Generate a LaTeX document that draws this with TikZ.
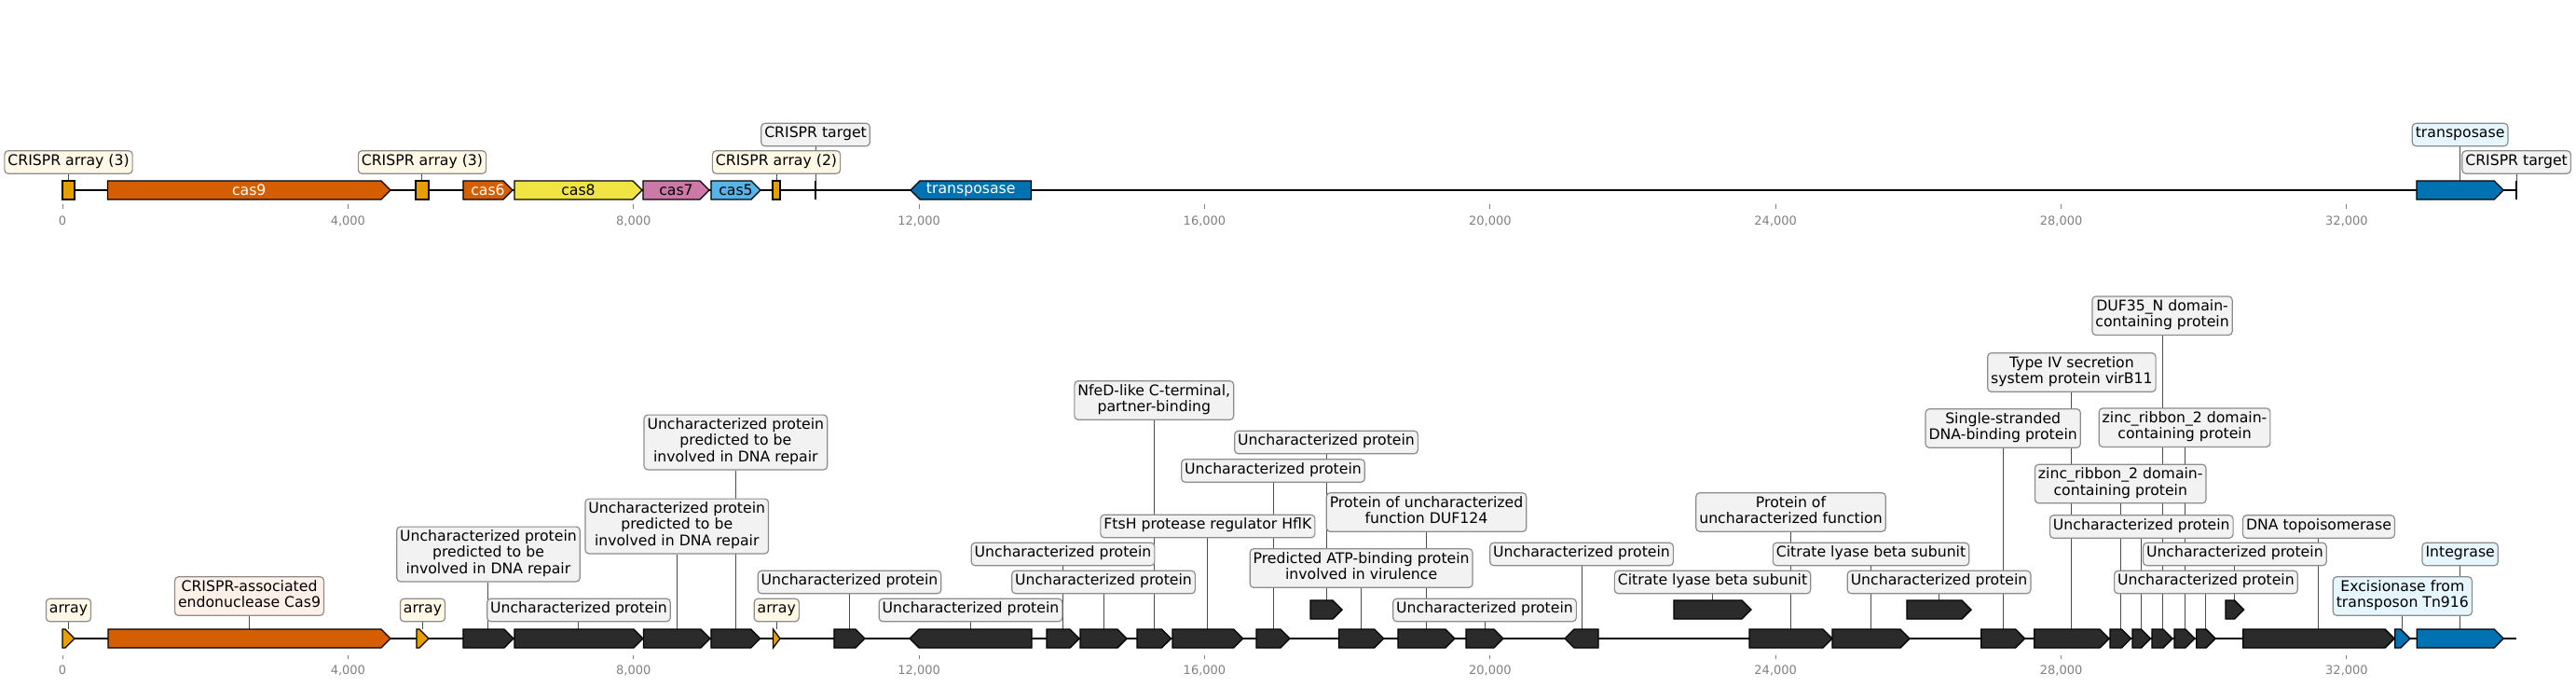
\documentclass[tikz,border=0pt]{standalone}
\usepackage{fontspec}
\setmainfont{DejaVu Sans}
\usetikzlibrary{backgrounds}
\definecolor{arrayorange}{HTML}{E69F00}
\definecolor{casred}{HTML}{D55E00}
\definecolor{casyellow}{HTML}{F0E442}
\definecolor{caspink}{HTML}{CC79A7}
\definecolor{cassky}{HTML}{56B4E9}
\definecolor{tnblue}{HTML}{0072B2}
\definecolor{hypo}{HTML}{2B2B2B}
\definecolor{boxgray}{HTML}{F2F2F2}
\definecolor{boxcream}{HTML}{FFF8E7}
\definecolor{boxpeach}{HTML}{FFF1E8}
\definecolor{boxblue}{HTML}{E6F6FE}

\begin{document}
\begin{tikzpicture}[
  x=38.295pt, y=0.5pt,
  track/.style={line width=1pt},
  gene/.style={draw=black, line width=0.65pt},
  lbl/.style={draw=black!45, line width=0.6pt, rounded corners=2pt, fill=boxgray, align=center,
    font=\fontsize{7.85}{8.63}\selectfont, inner xsep=1.75pt, inner ysep=1.8pt,
    execute at begin node=\strut, execute at end node=\strut},
  inside/.style={font=\fontsize{7.85}{8.63}\selectfont, inner sep=0pt},
  lead/.style={draw=black!70, line width=0.5pt},
  tick/.style={draw=black!50, line width=0.5pt},
  ticklbl/.style={font=\fontsize{6.5}{7.8}\selectfont, text=black!50, inner sep=0pt},
]
\useasboundingbox (-0.8748,0) rectangle (35.2128,736);

% Axes
\draw[track] (0,532) -- (34.378,532);
\draw[track] (0,51) -- (34.378,51);
\foreach \k/\t in {0/0,4/{4,000},8/{8,000},12/{12,000},16/{16,000},20/{20,000},24/{24,000},28/{28,000},32/{32,000}} {
  \draw[tick] (\k,517) -- (\k,512);
  \node[ticklbl] (tt\k) at (\k,499) {\t};
  \draw[tick] (\k,33) -- (\k,29);
  \node[ticklbl] (bt\k) at (\k,17) {\t};
}

% Top track
\foreach \n/\a/\b in {a1/0/0.17, a2/4.948/5.131, a3/9.949/10.053} {
  \draw[gene, fill=arrayorange] (\a,522) rectangle (\b,542);
  \coordinate (\n) at ({(\a+\b)/2},542);
}
\foreach \n/\a/\b/\c/\tc/\txt in {c9/0.632/4.596/casred/white/cas9, c6/5.614/6.306/casred/white/cas6,
    c8/6.332/8.121/casyellow/black/cas8, c7/8.134/9.061/caspink/black/cas7,
    c5/9.087/9.779/cassky/black/cas5, tr2/32.98/34.197/tnblue/white/{}} {
  \pgfmathsetmacro{\tip}{max(\a,\b-0.1306)}
  \draw[gene, fill=\c] (\a,522) -- (\tip,522) -- (\b,532) -- (\tip,542) -- (\a,542) -- cycle;
  \node[inside, text=\tc] (\n-in) at ({(\a+\b)/2},532) {\txt};
  \coordinate (\n) at ({(\a+\b)/2},542);
}
\draw[gene, fill=tnblue] (13.572,522) -- (12.0116,522) -- (11.881,532) -- (12.0116,542) -- (13.572,542) -- cycle;
\node[inside, text=white] (tr1-in) at (12.7265,532) {transposase};
\draw[gene, line width=0.9pt] (10.55,522) -- (10.55,542);
\coordinate (t1) at (10.55,542);
\draw[gene, line width=1.1pt] (34.378,522) -- (34.378,542);
\coordinate (t2) at (34.378,542);

\node[lbl, fill=boxcream] (la1) at (a1 |- 0,562) {CRISPR array (3)};
\node[lbl, fill=boxcream] (la2) at (a2 |- 0,562) {CRISPR array (3)};
\node[lbl, fill=boxcream] (la3) at (a3 |- 0,562) {CRISPR array (2)};
\node[lbl] (lt1) at (t1 |- 0,591.5) {CRISPR target};
\node[lbl, fill=boxblue] (ltr2) at (tr2 |- 0,591.5) {transposase};
\node[lbl] (lt2) at (t2 |- 0,562) {CRISPR target};

% Bottom track
\foreach \n/\a/\b/\y/\c in {ba1/0/0.17/51/arrayorange, bc9/0.64/4.596/51/casred, ba2/4.961/5.131/51/arrayorange,
    g1/5.614/6.319/51/hypo, g2/6.332/8.134/51/hypo, g3/8.141/9.074/51/hypo, g4/9.087/9.775/51/hypo,
    ba3/9.956/10.053/51/arrayorange, g5/10.81/11.242/51/hypo, g7/13.788/14.245/51/hypo,
    g8/14.258/14.911/51/hypo, g9/15.054/15.531/51/hypo, g10/15.551/16.538/51/hypo,
    g11/16.725/17.195/51/hypo, e1/17.483/17.927/82/hypo, g12/17.881/18.51/51/hypo,
    g13/18.71/19.506/51/hypo, g14/19.663/20.185/51/hypo, e2/22.575/23.658/82/hypo,
    g16/23.632/24.794/51/hypo, g17/24.794/25.878/51/hypo, e3/25.839/26.74/82/hypo,
    g18/26.879/27.492/51/hypo, g19/27.624/28.672/51/hypo, g20/28.685/28.978/51/hypo,
    g21/28.998/29.253/51/hypo, g22/29.273/29.56/51/hypo, g23/29.586/29.873/51/hypo,
    g24/29.896/30.161/51/hypo, e4/30.304/30.56/82/hypo, g25/30.549/32.668/51/hypo,
    g26/32.677/32.887/51/tnblue, g27/32.982/34.197/51/tnblue} {
  \pgfmathsetmacro{\tip}{max(\a,\b-0.1306)}
  \draw[gene, fill=\c] (\a,\y-10) -- (\tip,\y-10) -- (\b,\y) -- (\tip,\y+10) -- (\a,\y+10) -- cycle;
  \coordinate (\n) at ({(\a+\b)/2},\y+10);
}
\foreach \n/\a/\b in {g6/11.868/13.579, g15/21.047/21.517} {
  \pgfmathsetmacro{\tip}{min(\b,\a+0.1306)}
  \draw[gene, fill=hypo] (\b,41) -- (\tip,41) -- (\a,51) -- (\tip,61) -- (\b,61) -- cycle;
  \coordinate (\n) at ({(\a+\b)/2},61);
}

% Labels above
\foreach \n/\y/\f/\txt in {ba1/81.5/boxcream/array, bc9/96.5/boxpeach/{CRISPR-associated\\endonuclease Cas9},
    ba2/81.5/boxcream/array,
    g1/141.5/boxgray/{Uncharacterized protein\\predicted to be\\involved in DNA repair},
    g2/81.5/boxgray/Uncharacterized protein,
    g3/171.5/boxgray/{Uncharacterized protein\\predicted to be\\involved in DNA repair},
    g4/261.5/boxgray/{Uncharacterized protein\\predicted to be\\involved in DNA repair},
    ba3/81.5/boxcream/array, g5/111.5/boxgray/Uncharacterized protein,
    g6/81.5/boxgray/Uncharacterized protein, g7/141.5/boxgray/Uncharacterized protein,
    g8/111.5/boxgray/Uncharacterized protein, g9/306.5/boxgray/{NfeD-like C-terminal,\\partner-binding},
    g10/171.5/boxgray/FtsH protease regulator HflK, g11/231/boxgray/Uncharacterized protein,
    e1/261.5/boxgray/Uncharacterized protein,
    g12/126.5/boxgray/{Predicted ATP-binding protein\\involved in virulence},
    g13/186.5/boxgray/{Protein of uncharacterized\\function DUF124},
    g14/81.5/boxgray/Uncharacterized protein, g15/141.5/boxgray/Uncharacterized protein,
    e2/111.5/boxgray/Citrate lyase beta subunit,
    g16/186.5/boxgray/{Protein of\\uncharacterized function},
    g17/141.5/boxgray/Citrate lyase beta subunit, e3/111.5/boxgray/Uncharacterized protein,
    g18/276.5/boxgray/{Single-stranded\\DNA-binding protein},
    g19/336.5/boxgray/{Type IV secretion\\system protein virB11},
    g20/217/boxgray/{zinc\_ribbon\_2 domain-\\containing protein},
    g21/171/boxgray/Uncharacterized protein,
    g22/397.3/boxgray/{DUF35\_N domain-\\containing protein},
    g23/277.3/boxgray/{zinc\_ribbon\_2 domain-\\containing protein},
    g24/111.5/boxgray/Uncharacterized protein, e4/141.5/boxgray/Uncharacterized protein,
    g25/171/boxgray/DNA topoisomerase,
    g26/96.5/boxblue/{Excisionase from\\transposon Tn916},
    g27/141.5/boxblue/Integrase} {
  \node[lbl, fill=\f] (l\n) at (\n |- 0,\y) {\txt};
}

% Leaders
\begin{scope}[on background layer]
\foreach \n in {a1,a2,a3,t1,tr2,t2,ba1,bc9,ba2,g1,g2,g3,g4,ba3,g5,g6,g7,g8,g9,g10,g11,e1,g12,g13,
    g14,g15,e2,g16,g17,e3,g18,g19,g20,g21,g22,g23,g24,e4,g25,g26,g27} {
  \draw[lead] (\n) -- (l\n);
}
\end{scope}
\end{tikzpicture}
\end{document}
